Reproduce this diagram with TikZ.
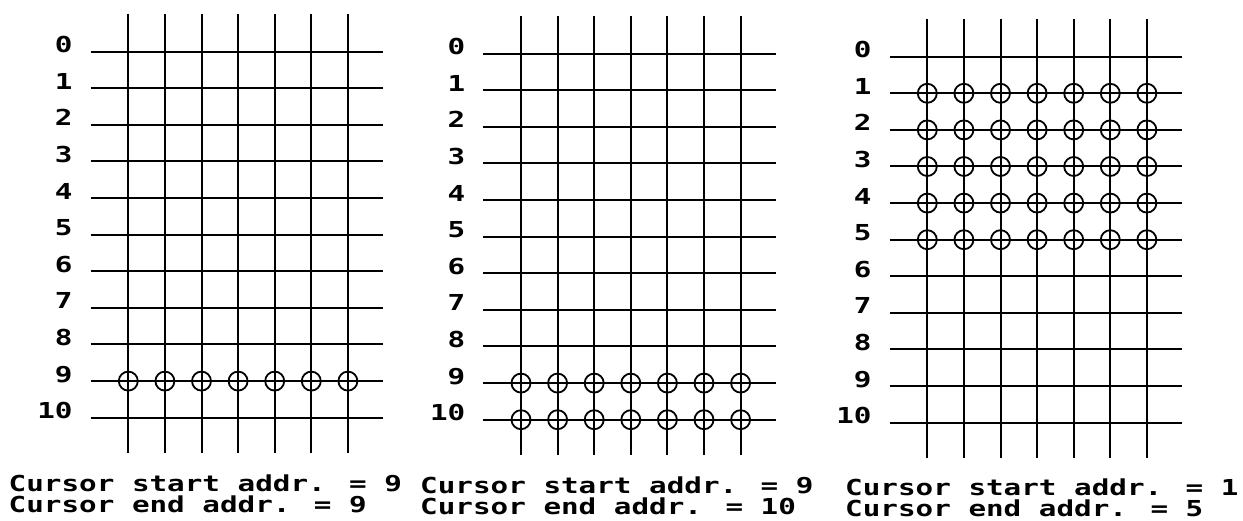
\documentclass[tikz,border=0pt]{standalone}
\usepackage{fontspec}
\newfontfamily\atari[FakeStretch=1.33]{DejaVu Sans Mono}
\tikzset{
  gridline/.style={line width=2pt, black},
  curmark/.style={line width=1.8pt, black},
  lbl/.style={font=\atari\bfseries\fontsize{22}{22}\selectfont, inner sep=0pt, anchor=base east},
  captxt/.style={font=\atari\bfseries\fontsize{22}{22}\selectfont, inner sep=0pt, anchor=base west}
}
\newcommand\drawpanel[8]{%
  \foreach \c in {0,...,6}
    \draw[gridline] ({#2+\c*36.6},{#3-37.7}) -- ({#2+\c*36.6},{#3+401});
  \foreach \r in {0,...,10} {
    \draw[gridline] ({#2-37.6},{#3+\r*36.6}) -- ({#2+254.6},{#3+\r*36.6});
    \node[lbl] (#1-\r) at ({#2-55.5},{#3+\r*36.6+1}) {\r};
  }
  \foreach \r in {#4,...,#5}
    \foreach \c in {0,...,6}
      \draw[curmark] ({#2+\c*36.6},{#3+\r*36.6}) circle[radius=9.5];
  \node[captxt] (#1-s) at (#6,{#3+#7}) {Cursor start addr. = #4};
  \node[captxt] (#1-e) at (#6,{#3+#8}) {Cursor end addr. = #5};
}
\begin{document}
\begin{tikzpicture}[x=1pt,y=-1pt]
  \useasboundingbox[fill=white] (0,0) rectangle (1243,521);
  \drawpanel{a}{128.3}{51.7}{9}{9}{8.5}{439.5}{461}
  \drawpanel{b}{521}{53.7}{9}{10}{420}{439.5}{461}
  \drawpanel{c}{927.3}{56.7}{1}{5}{845}{439}{460}
\end{tikzpicture}
\end{document}
